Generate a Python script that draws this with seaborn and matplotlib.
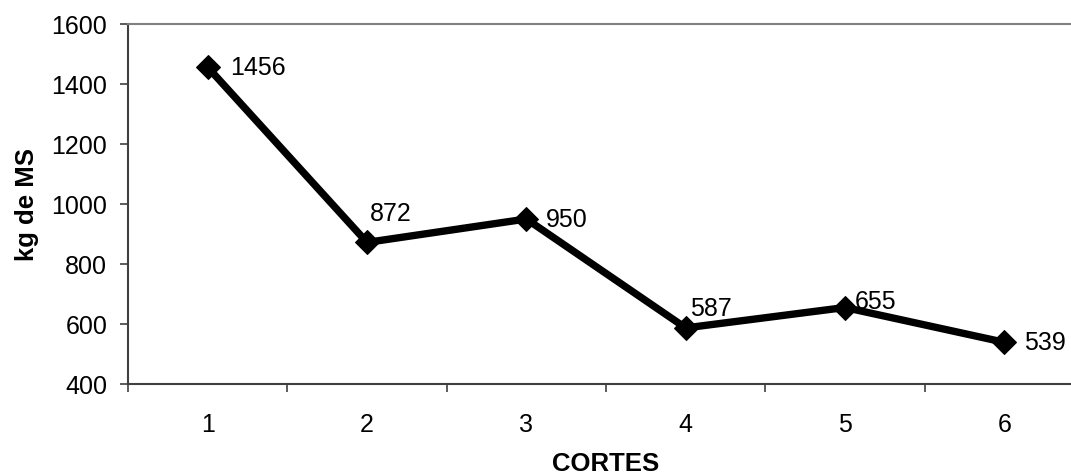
import matplotlib
matplotlib.use("Agg")
import matplotlib.pyplot as plt
import seaborn as sns
import pandas as pd
import numpy as np

# data
cortes = [1, 2, 3, 4, 5, 6]
kg_ms = [1456, 872, 950, 587, 655, 539]
y_ticks = [400, 600, 800, 1000, 1200, 1400, 1600]

sns.set_theme(style="white")
plt.rcParams['font.family'] = ['Liberation Sans', 'DejaVu Sans']
plt.rcParams['text.color'] = 'black'
plt.rcParams['axes.labelcolor'] = 'black'
plt.rcParams['xtick.color'] = 'black'
plt.rcParams['ytick.color'] = 'black'

df = pd.DataFrame({"CORTES": cortes, "kg de MS": kg_ms})

fig = plt.figure(figsize=(10.71, 4.77), dpi=100)
ax = fig.add_axes([128 / 1071, 92 / 477, 956 / 1071, 360 / 477])

# the line with diamond markers
sns.lineplot(data=df, x="CORTES", y="kg de MS", ax=ax, color="black",
             linewidth=5.3, marker="D", markersize=12, markeredgecolor="black")

# data labels placed next to each point (as in the original)
offsets = [(16, 0), (2, 21), (14, 0), (3, 14), (7, 5), (14, 0)]
for xv, yv, off in zip(cortes, kg_ms, offsets):
    ax.annotate(str(yv), (xv, yv), xytext=off, textcoords="offset points",
                ha="left", va="center", fontsize=18, color="black")

# axes layout like the original category axis
ax.set_xlim(0.5, 6.5)
ax.set_ylim(400, 1600)
ax.set_yticks(y_ticks)
ax.set_xticks(cortes)
ax.set_xticks(np.arange(0.5, 7, 1), minor=True)
ax.tick_params(axis="x", which="major", length=0, pad=20, labelsize=18)
ax.tick_params(axis="x", which="minor", length=6, width=1.2, color="#404040",
               direction="out", bottom=True)
ax.tick_params(axis="y", length=6, width=1.2, color="#404040",
               direction="out", left=True, pad=9, labelsize=18)

for side in ["left", "bottom"]:
    ax.spines[side].set_color("#404040")
    ax.spines[side].set_linewidth(1.5)
ax.spines["top"].set_color("#808080")
ax.spines["top"].set_linewidth(1.5)
ax.spines["right"].set_visible(False)

ax.set_xlabel("CORTES", fontsize=18.5, fontweight="bold", labelpad=11)
ax.set_ylabel("kg de MS", fontsize=18.5, fontweight="bold", labelpad=9)

plt.savefig("out.png", dpi=100)
plt.close()
